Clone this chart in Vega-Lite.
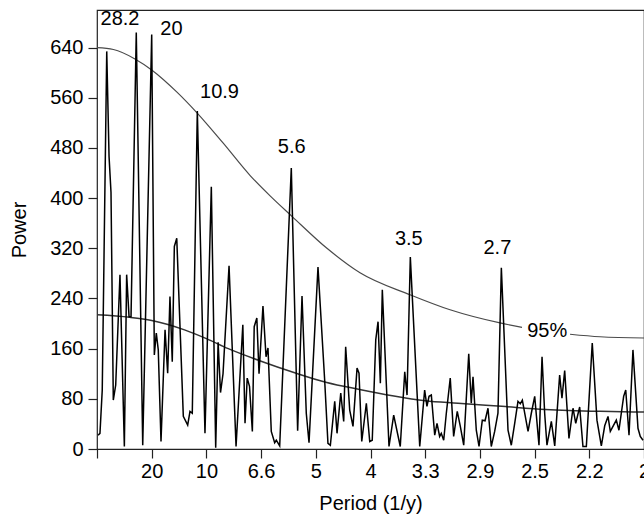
{
  "$schema": "https://vega.github.io/schema/vega-lite/v6.json",
  "width": 547,
  "height": 439,
  "autosize": "none",
  "padding": {"left": 97, "top": 10, "right": 0, "bottom": 68},
  "background": "white",
  "config": {
    "view": {"stroke": "#222", "strokeWidth": 1.2},
    "font": "Liberation Sans",
    "axis": {
      "labelFont": "Liberation Sans",
      "titleFont": "Liberation Sans",
      "labelFontSize": 20,
      "titleFontSize": 20,
      "titleFontWeight": "normal",
      "labelColor": "#000",
      "titleColor": "#000",
      "tickColor": "#222",
      "tickSize": 9,
      "tickWidth": 1.2,
      "domain": false,
      "grid": false
    }
  },
  "datasets": {
    "spec": [
      {"f": 0.001, "p": 22}, {"f": 0.0027, "p": 25}, {"f": 0.0048, "p": 94}, {"f": 0.0089, "p": 634},
      {"f": 0.011, "p": 467}, {"f": 0.0128, "p": 409}, {"f": 0.0149, "p": 78}, {"f": 0.0171, "p": 102},
      {"f": 0.021, "p": 278}, {"f": 0.025, "p": 4}, {"f": 0.0271, "p": 278}, {"f": 0.0293, "p": 211},
      {"f": 0.0311, "p": 211}, {"f": 0.0359, "p": 664}, {"f": 0.0418, "p": 6}, {"f": 0.05, "p": 661},
      {"f": 0.0524, "p": 150}, {"f": 0.0542, "p": 185}, {"f": 0.056, "p": 158}, {"f": 0.0585, "p": 12},
      {"f": 0.0622, "p": 190}, {"f": 0.0646, "p": 121}, {"f": 0.0667, "p": 243}, {"f": 0.0688, "p": 139},
      {"f": 0.0707, "p": 323}, {"f": 0.0729, "p": 336}, {"f": 0.0789, "p": 52}, {"f": 0.0829, "p": 38},
      {"f": 0.085, "p": 60}, {"f": 0.0871, "p": 57}, {"f": 0.0917, "p": 539}, {"f": 0.0987, "p": 25},
      {"f": 0.1045, "p": 418}, {"f": 0.1085, "p": 2}, {"f": 0.1107, "p": 170}, {"f": 0.1129, "p": 90},
      {"f": 0.1152, "p": 120}, {"f": 0.1207, "p": 292}, {"f": 0.1271, "p": 4}, {"f": 0.1333, "p": 198},
      {"f": 0.1353, "p": 41}, {"f": 0.1373, "p": 113}, {"f": 0.1394, "p": 100}, {"f": 0.142, "p": 28},
      {"f": 0.1437, "p": 195}, {"f": 0.1461, "p": 209}, {"f": 0.1481, "p": 120}, {"f": 0.1517, "p": 228},
      {"f": 0.1545, "p": 147}, {"f": 0.1563, "p": 161}, {"f": 0.1593, "p": 28}, {"f": 0.1624, "p": 10},
      {"f": 0.1639, "p": 14}, {"f": 0.167, "p": 5}, {"f": 0.1776, "p": 448}, {"f": 0.1834, "p": 29},
      {"f": 0.1874, "p": 244}, {"f": 0.1913, "p": 57}, {"f": 0.1938, "p": 10}, {"f": 0.202, "p": 290},
      {"f": 0.2081, "p": 110}, {"f": 0.2111, "p": 9}, {"f": 0.2133, "p": 6}, {"f": 0.2173, "p": 76},
      {"f": 0.2194, "p": 25}, {"f": 0.2228, "p": 89}, {"f": 0.2255, "p": 44}, {"f": 0.2273, "p": 163},
      {"f": 0.231, "p": 62}, {"f": 0.234, "p": 36}, {"f": 0.2377, "p": 129}, {"f": 0.2395, "p": 121},
      {"f": 0.242, "p": 12}, {"f": 0.2462, "p": 73}, {"f": 0.2493, "p": 12}, {"f": 0.2516, "p": 14},
      {"f": 0.2548, "p": 174}, {"f": 0.2569, "p": 203}, {"f": 0.259, "p": 105}, {"f": 0.2608, "p": 254},
      {"f": 0.2669, "p": 4}, {"f": 0.2712, "p": 54}, {"f": 0.2772, "p": 4}, {"f": 0.2813, "p": 123},
      {"f": 0.2834, "p": 86}, {"f": 0.2864, "p": 306}, {"f": 0.295, "p": 4}, {"f": 0.2995, "p": 94},
      {"f": 0.3016, "p": 68}, {"f": 0.3035, "p": 84}, {"f": 0.3056, "p": 86}, {"f": 0.3087, "p": 22},
      {"f": 0.3108, "p": 41}, {"f": 0.3132, "p": 20}, {"f": 0.3147, "p": 25}, {"f": 0.3169, "p": 14},
      {"f": 0.3193, "p": 57}, {"f": 0.3229, "p": 113}, {"f": 0.326, "p": 20}, {"f": 0.3293, "p": 60},
      {"f": 0.3321, "p": 36}, {"f": 0.3352, "p": 6}, {"f": 0.3398, "p": 152}, {"f": 0.3421, "p": 73},
      {"f": 0.3437, "p": 115}, {"f": 0.3467, "p": 30}, {"f": 0.3492, "p": 4}, {"f": 0.3522, "p": 46},
      {"f": 0.3547, "p": 45}, {"f": 0.3574, "p": 65}, {"f": 0.3604, "p": 4}, {"f": 0.3635, "p": 28},
      {"f": 0.3665, "p": 57}, {"f": 0.3696, "p": 289}, {"f": 0.3757, "p": 30}, {"f": 0.3787, "p": 6},
      {"f": 0.3818, "p": 41}, {"f": 0.3848, "p": 76}, {"f": 0.3869, "p": 72}, {"f": 0.3888, "p": 78},
      {"f": 0.394, "p": 28}, {"f": 0.397, "p": 57}, {"f": 0.4001, "p": 84}, {"f": 0.404, "p": 6},
      {"f": 0.4068, "p": 147}, {"f": 0.4092, "p": 57}, {"f": 0.4113, "p": 6}, {"f": 0.4153, "p": 44},
      {"f": 0.4184, "p": 5}, {"f": 0.4229, "p": 118}, {"f": 0.425, "p": 81}, {"f": 0.4275, "p": 125},
      {"f": 0.4314, "p": 17}, {"f": 0.4351, "p": 65}, {"f": 0.4376, "p": 41}, {"f": 0.4412, "p": 67},
      {"f": 0.4442, "p": 4}, {"f": 0.4473, "p": 4}, {"f": 0.4527, "p": 169}, {"f": 0.457, "p": 46},
      {"f": 0.461, "p": 5}, {"f": 0.4641, "p": 37}, {"f": 0.4671, "p": 52}, {"f": 0.4692, "p": 28},
      {"f": 0.4747, "p": 46}, {"f": 0.4771, "p": 30}, {"f": 0.4814, "p": 84}, {"f": 0.4833, "p": 94},
      {"f": 0.4863, "p": 22}, {"f": 0.4899, "p": 158}, {"f": 0.4945, "p": 33}, {"f": 0.4966, "p": 20},
      {"f": 0.4991, "p": 14}
    ],
    "upper": [
      {"f": 0, "p": 640, "seg": "a"}, {"f": 0.015, "p": 637, "seg": "a"}, {"f": 0.0347, "p": 622, "seg": "a"},
      {"f": 0.0503, "p": 604, "seg": "a"}, {"f": 0.0731, "p": 569, "seg": "a"}, {"f": 0.0914, "p": 536, "seg": "a"},
      {"f": 0.1152, "p": 488, "seg": "a"}, {"f": 0.14, "p": 436, "seg": "a"}, {"f": 0.158, "p": 404, "seg": "a"},
      {"f": 0.1782, "p": 371, "seg": "a"}, {"f": 0.2102, "p": 320, "seg": "a"}, {"f": 0.2404, "p": 281, "seg": "a"},
      {"f": 0.2861, "p": 246, "seg": "a"}, {"f": 0.3227, "p": 222, "seg": "a"}, {"f": 0.3684, "p": 201, "seg": "a"},
      {"f": 0.3885, "p": 194, "seg": "a"},
      {"f": 0.4324, "p": 183, "seg": "b"}, {"f": 0.4598, "p": 179, "seg": "b"}, {"f": 0.5, "p": 177, "seg": "b"}
    ],
    "lower": [
      {"f": 0, "p": 214}, {"f": 0.03, "p": 210}, {"f": 0.05, "p": 205}, {"f": 0.08, "p": 190},
      {"f": 0.1, "p": 176}, {"f": 0.12, "p": 160}, {"f": 0.15, "p": 140}, {"f": 0.18, "p": 122},
      {"f": 0.21, "p": 106}, {"f": 0.24, "p": 95}, {"f": 0.27, "p": 85}, {"f": 0.3, "p": 77},
      {"f": 0.33, "p": 73}, {"f": 0.37, "p": 68}, {"f": 0.41, "p": 63}, {"f": 0.46, "p": 60},
      {"f": 0.5, "p": 59}
    ],
    "labels": [
      {"f": 0.021, "p": 685, "t": "28.2"}, {"f": 0.068, "p": 669, "t": "20"},
      {"f": 0.112, "p": 570, "t": "10.9"}, {"f": 0.178, "p": 482, "t": "5.6"},
      {"f": 0.285, "p": 335, "t": "3.5"}, {"f": 0.366, "p": 321, "t": "2.7"},
      {"f": 0.4115, "p": 188, "t": "95%"}
    ]
  },
  "encoding": {
    "x": {
      "field": "f", "type": "quantitative",
      "scale": {"domain": [0, 0.5], "nice": false, "zero": false},
      "axis": {
        "title": "Period (1/y)",
        "values": [0, 0.05, 0.1, 0.15, 0.2, 0.25, 0.3, 0.35, 0.4, 0.45, 0.5],
        "labelExpr": "['','20','10','6.6','5','4','3.3','2.9','2.5','2.2','2'][round(datum.value*20)]",
        "labelPadding": 3,
        "titlePadding": 12,
        "labelFlush": false,
        "labelOverlap": false
      }
    },
    "y": {
      "field": "p", "type": "quantitative",
      "scale": {"domain": [0, 700], "nice": false},
      "axis": {
        "title": "Power",
        "values": [0, 80, 160, 240, 320, 400, 480, 560, 640],
        "labelPadding": 5,
        "titlePadding": 20,
        "labelFlush": false,
        "labelOverlap": false
      }
    }
  },
  "layer": [
    {
      "data": {"name": "upper"},
      "mark": {"type": "line", "color": "#4a4a4a", "strokeWidth": 1.2, "interpolate": "monotone"},
      "encoding": {"detail": {"field": "seg"}}
    },
    {
      "data": {"name": "lower"},
      "mark": {"type": "line", "color": "#333", "strokeWidth": 1.5, "interpolate": "monotone"}
    },
    {
      "data": {"name": "spec"},
      "mark": {"type": "line", "color": "#000", "strokeWidth": 1.5}
    },
    {
      "data": {"name": "labels"},
      "mark": {"type": "text", "fontSize": 20, "font": "Liberation Sans", "color": "#000", "baseline": "middle", "align": "center"},
      "encoding": {"text": {"field": "t"}}
    }
  ]
}
